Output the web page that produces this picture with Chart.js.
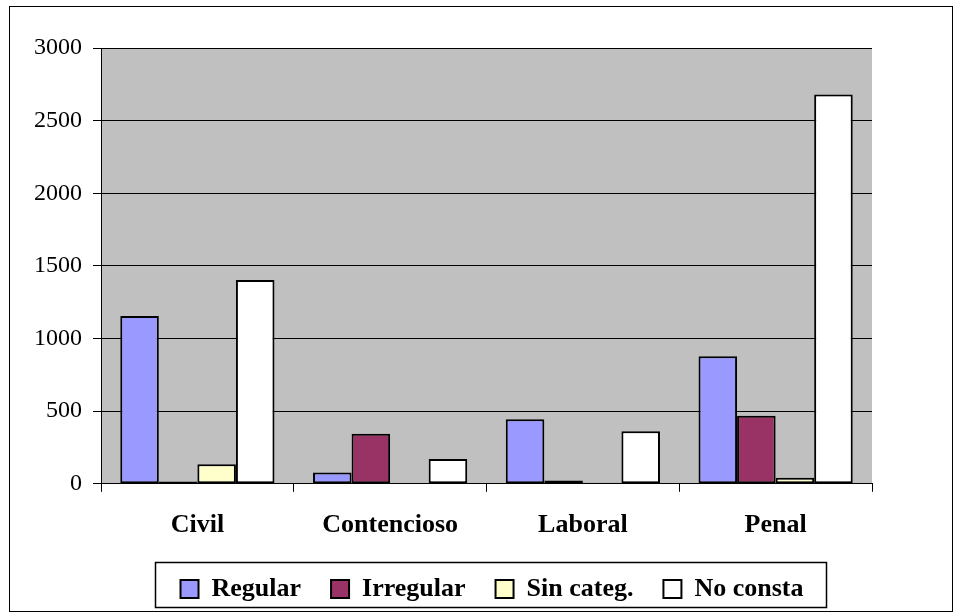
<!DOCTYPE html>
<html>
<head>
<meta charset="utf-8">
<script src="https://cdn.jsdelivr.net/npm/chart.js@4"></script>
<style>
  html, body { margin: 0; padding: 0; background: #fff; }
  #wrap { width: 961px; height: 616px; }
</style>
</head>
<body>
<div id="wrap"><canvas id="chart" width="961" height="616"></canvas></div>
<script>
const categories = ['Civil', 'Contencioso', 'Laboral', 'Penal'];
const seriesNames = ['Regular', 'Irregular', 'Sin categ.', 'No consta'];
const regular = [1155, 78, 445, 878];
const irregular = [15, 345, 22, 468];
const sinCateg = [135, 5, 8, 42];
const noConsta = [1403, 170, 362, 2680];
const yTicks = [0, 500, 1000, 1500, 2000, 2500, 3000];

const colors = ['#9999FF', '#993366', '#FFFFCC', '#FFFFFF'];
const values = [regular, irregular, sinCateg, noConsta];

// fondo gris del área de trazado, marco exterior y recuadro de la leyenda
const framePlugin = {
  id: 'frame',
  afterLayout(chart) {
    // la leyenda va centrada en su recuadro, no en todo el ancho
    chart.legend.left += 46;
    chart.legend.right += 46;
    chart.legend.top -= 13;
    chart.legend.bottom -= 13;
  },
  beforeDraw(chart) {
    const { ctx, chartArea } = chart;
    ctx.save();
    ctx.fillStyle = '#fff';
    ctx.fillRect(0, 0, chart.width, chart.height);
    ctx.fillStyle = '#C0C0C0';
    ctx.fillRect(chartArea.left, chartArea.top, chartArea.right - chartArea.left, chartArea.bottom - chartArea.top);
    ctx.restore();
  },
  afterDraw(chart) {
    const { ctx } = chart;
    ctx.save();
    ctx.strokeStyle = '#000';
    ctx.lineWidth = 1;
    ctx.strokeRect(9.5, 6.5, 943, 605);
    ctx.lineWidth = 1.5;
    ctx.strokeRect(155.5, 562.5, 671, 45);
    ctx.restore();
  }
};

new Chart(document.getElementById('chart'), {
  type: 'bar',
  data: {
    labels: categories,
    datasets: seriesNames.map((name, i) => ({
      label: name,
      data: values[i],
      backgroundColor: colors[i],
      borderColor: '#000',
      borderWidth: 2,
      borderSkipped: false,
      categoryPercentage: 0.8,
      barPercentage: 1.0
    }))
  },
  options: {
    responsive: false,
    animation: false,
    devicePixelRatio: 1,
    layout: { padding: { left: 20, right: 89, top: 48, bottom: -9 } },
    plugins: {
      tooltip: { enabled: false },
      legend: {
        position: 'bottom',
        labels: {
          color: '#000',
          font: { family: 'Liberation Serif', size: 26, weight: 'bold' },
          boxWidth: 18,
          boxHeight: 18,
          padding: 30,
          generateLabels(chart) {
            return chart.data.datasets.map((ds, i) => ({
              text: ds.label,
              fillStyle: ds.backgroundColor,
              strokeStyle: '#000',
              lineWidth: 2,
              datasetIndex: i,
              hidden: false
            }));
          }
        }
      }
    },
    scales: {
      x: {
        grid: {
          offset: true,
          drawOnChartArea: false,
          color: '#000',
          tickLength: 8
        },
        border: { color: '#000', width: 1 },
        ticks: {
          color: '#000',
          padding: 18,
          font: { family: 'Liberation Serif', size: 26, weight: 'bold' }
        }
      },
      y: {
        min: 0,
        max: 3000,
        afterBuildTicks(axis) {
          axis.ticks = yTicks.map(v => ({ value: v }));
        },
        afterFit(axis) { axis.width = 81; },
        grid: { color: '#000', lineWidth: 1, tickLength: 8 },
        border: { color: '#000', width: 1 },
        ticks: {
          color: '#000',
          padding: 11,
          font: { family: 'Liberation Serif', size: 24 },
          callback: v => String(v)
        }
      }
    }
  },
  plugins: [framePlugin]
});
</script>
</body>
</html>
